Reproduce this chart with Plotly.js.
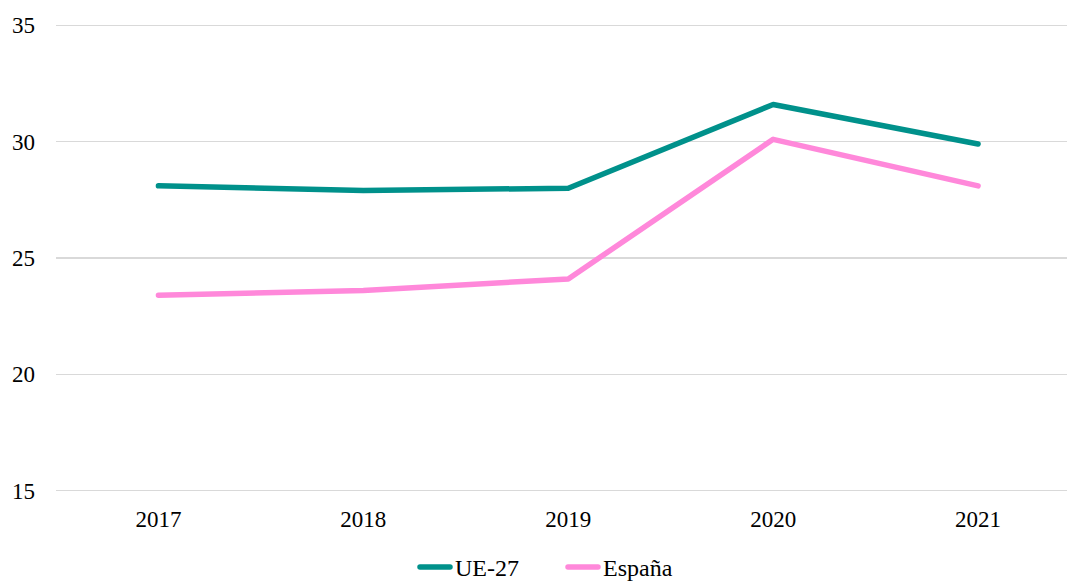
<!DOCTYPE html>
<html><head><meta charset="utf-8">
<script src="https://cdn.plot.ly/plotly-3.0.1.min.js"></script>
<style>html,body{margin:0;padding:0;overflow:hidden;background:#fff}
#chart path.js-line{stroke-linecap:round;stroke-linejoin:round}</style>
</head><body>
<div id="chart" style="width:1067px;height:582px"></div>
<script>
const years = ['2017','2018','2019','2020','2021'];
const ue27 = [28.1, 27.9, 28.0, 31.6, 29.9];
const espana = [23.4, 23.6, 24.1, 30.1, 28.1];
const yTicks = [15, 20, 25, 30, 35];

const font = {family: 'Liberation Serif, Times New Roman, serif', size: 23, color: '#000'};
const legendFont = {family: 'Liberation Serif, Times New Roman, serif', size: 24, color: '#000'};
const data = [
  {x: years, y: ue27, name: 'UE-27', type: 'scatter', mode: 'lines',
   line: {color: '#00918B', width: 5.5}},
  {x: years, y: espana, name: 'España', type: 'scatter', mode: 'lines',
   line: {color: '#FF88DA', width: 5.5}}
];
const layout = {
  width: 1067, height: 582,
  margin: {l: 56, r: 0, t: 22.67, b: 88.67},
  paper_bgcolor: '#fff', plot_bgcolor: '#fff',
  font: font,
  showlegend: true,
  legend: {orientation: 'h', x: 415/1067, xref: 'container', xanchor: 'left',
           y: 0.025, yref: 'container', yanchor: 'middle',
           font: legendFont, entrywidth: 103, entrywidthmode: 'pixels', tracegroupgap: 0},
  xaxis: {type: 'category', range: [-0.5, 4.434], showgrid: false, zeroline: false,
          showline: false, ticks: '', tickfont: font, ticklabelstandoff: 10, automargin: false},
  yaxis: {range: [14.9, 35.1], tickvals: yTicks, showgrid: true, gridcolor: '#d9d9d9',
          gridwidth: 1.5, zeroline: false, showline: false, ticks: '', tickfont: font,
          ticklabelstandoff: 20, automargin: false}
};
Plotly.newPlot('chart', data, layout, {displayModeBar: false, staticPlot: true});
</script>
</body></html>
